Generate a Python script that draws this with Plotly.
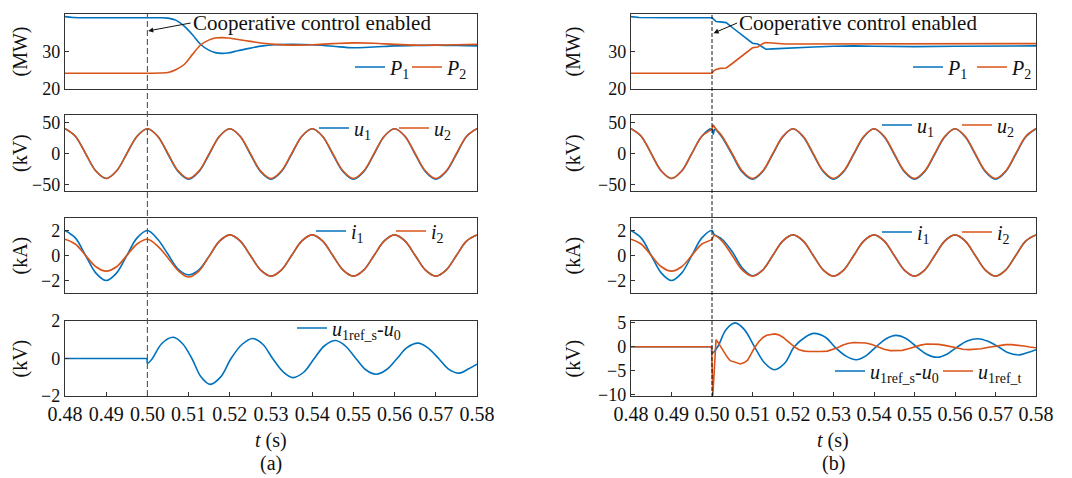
import plotly.graph_objects as go

# ---------------- data ----------------
# uniform sample times (s) used for the sinusoidal quantities
t_grid = [round(0.48 + 0.0025 * k, 4) for k in range(41)]

# Row 1 : active power (MW)
tP_a = [0.48, 0.482, 0.49, 0.5, 0.503, 0.505, 0.507, 0.509, 0.511, 0.513, 0.515, 0.5165, 0.518,
        0.5195, 0.522, 0.525, 0.528, 0.531, 0.535, 0.54, 0.545, 0.55, 0.555, 0.56, 0.565, 0.57, 0.575, 0.58]
P1_a = [39.3, 39.05, 39.0, 39.0, 39.0, 38.9, 38.3, 36.7, 34.4, 31.8, 30.3, 29.7, 29.5,
        29.6, 30.2, 30.9, 31.5, 31.8, 31.9, 31.8, 31.4, 31.0, 31.2, 31.5, 31.6, 31.7, 31.6, 31.5]
P2_a = [24.2, 24.2, 24.2, 24.2, 24.25, 24.4, 25.2, 26.6, 29.3, 31.8, 33.1, 33.6, 33.7,
        33.6, 33.2, 32.7, 32.2, 31.9, 31.7, 31.8, 32.1, 32.3, 32.2, 31.9, 31.7, 31.7, 31.8, 31.9]

tP_b = [0.48, 0.482, 0.49, 0.5, 0.5005, 0.501, 0.502, 0.5035, 0.505, 0.507, 0.509, 0.51, 0.5113,
        0.5125, 0.5133, 0.515, 0.518, 0.52, 0.525, 0.53, 0.535, 0.54, 0.545, 0.55, 0.56, 0.57, 0.58]
P1_b = [39.3, 39.05, 39.0, 39.0, 38.5, 38.0, 37.9, 37.7, 36.4, 34.7, 33.0, 32.2, 32.0,
        31.2, 30.6, 30.7, 30.9, 31.0, 31.2, 31.4, 31.5, 31.4, 31.3, 31.3, 31.4, 31.5, 31.5]
P2_b = [24.2, 24.2, 24.2, 24.2, 24.9, 25.2, 25.5, 25.6, 26.8, 28.5, 30.2, 31.0, 31.2,
        32.1, 32.4, 32.2, 32.0, 32.0, 32.0, 32.1, 32.2, 32.2, 32.1, 32.1, 32.1, 32.1, 32.1]

# Row 2 : voltages (kV) on t_grid
u1_a = [40, 28, 0, -28, -40, -28, 0, 28, 40, 28, -1, -29, -41, -29, -1, 28, 40, 28, -1, -29, -41,
        -29, -1, 28, 40, 28, -1, -29, -41, -29, -1, 28, 40, 28, -1, -29, -41, -29, -1, 28, 40]
u2_a = [40, 28, 0, -28, -40, -28, 0, 28, 40, 28, 0, -28, -40, -28, 0, 28, 40, 28, 0, -28, -40,
        -28, 0, 28, 40, 28, 0, -28, -40, -28, 0, 28, 40, 28, 0, -28, -40, -28, 0, 28, 40]
t_ub = t_grid[:9] + [0.5003, 0.5007, 0.5012] + t_grid[9:]
u1_b = [40, 28, 0, -28, -40, -28, 0, 28, 40, 31, 39, 37,
        26, -2, -30, -41, -29, -1, 27, 40, 27, -1, -29, -41, -29, -1, 27, 40,
        27, -1, -29, -41, -29, -1, 27, 40, 27, -1, -29, -41, -29, -1, 27, 40]
u2_b = [40, 28, 0, -28, -40, -28, 0, 28, 40, 46, 42, 38,
        28, 0, -28, -40, -28, 0, 28, 40, 28, 0, -28, -40, -28, 0, 28, 40,
        28, 0, -28, -40, -28, 0, 28, 40, 28, 0, -28, -40, -28, 0, 28, 40]

# Row 3 : currents (kA) on t_grid
i1_a = [2.0, 1.41, 0, -1.41, -2.0, -1.41, 0, 1.41, 2.0, 1.3, 0.1, -1.1, -1.55, -1.15, -0.05, 1.15, 1.65,
        1.17, 0, -1.17, -1.65, -1.17, 0, 1.17, 1.65, 1.17, 0, -1.17, -1.65, -1.17, 0, 1.17, 1.65,
        1.17, 0, -1.17, -1.65, -1.17, 0, 1.17, 1.65]
i2_a = [1.3, 0.92, 0, -0.9, -1.25, -0.9, 0, 0.92, 1.3, 0.75, -0.2, -1.22, -1.72, -1.25, -0.05, 1.15, 1.65,
        1.17, 0, -1.17, -1.65, -1.17, 0, 1.17, 1.65, 1.17, 0, -1.17, -1.65, -1.17, 0, 1.17, 1.65,
        1.17, 0, -1.17, -1.65, -1.17, 0, 1.17, 1.65]
t_ib = t_grid[:9] + [0.5005] + t_grid[9:]
i1_b = [2.0, 1.41, 0, -1.41, -2.0, -1.41, 0, 1.41, 2.0, 1.7, 1.3, 0.3, -1.0, -1.62, -1.17, 0, 1.17, 1.65,
        1.17, 0, -1.17, -1.65, -1.17, 0, 1.17, 1.65, 1.17, 0, -1.17, -1.65, -1.17, 0, 1.17, 1.65,
        1.17, 0, -1.17, -1.65, -1.17, 0, 1.17, 1.65]
i2_b = [1.3, 0.92, 0, -0.9, -1.25, -0.9, 0, 0.92, 1.3, 1.6, 1.15, 0.0, -1.17, -1.65, -1.17, 0, 1.17, 1.65,
        1.17, 0, -1.17, -1.65, -1.17, 0, 1.17, 1.65, 1.17, 0, -1.17, -1.65, -1.17, 0, 1.17, 1.65,
        1.17, 0, -1.17, -1.65, -1.17, 0, 1.17, 1.65]

# Row 4 : reference voltage components (kV)
tD_a = [0.48, 0.495, 0.4998, 0.4999, 0.5, 0.5012, 0.5035, 0.5063, 0.5085, 0.5108, 0.513, 0.5152, 0.5178,
        0.5203, 0.523, 0.5255, 0.528, 0.5304, 0.533, 0.5353, 0.538, 0.5405, 0.543, 0.5457, 0.548,
        0.5506, 0.553, 0.5555, 0.558, 0.5606, 0.563, 0.5657, 0.568, 0.5707, 0.573, 0.5757, 0.578, 0.58]
dS_a = [0, 0, 0, 0, -0.25, 0, 0.8, 1.13, 0.8, 0, -0.98, -1.38, -0.98,
        0, 0.76, 1.07, 0.76, 0, -0.72, -1.02, -0.72, 0, 0.68, 0.96, 0.68,
        0, -0.6, -0.84, -0.6, 0, 0.58, 0.82, 0.58, 0, -0.55, -0.78, -0.55, -0.3]

tD_b = [0.48, 0.495, 0.4998, 0.4999, 0.5, 0.5014, 0.5035, 0.5057, 0.508, 0.5105, 0.513, 0.5154, 0.518,
        0.5203, 0.523, 0.5251, 0.528, 0.5303, 0.533, 0.5356, 0.538, 0.5405, 0.543, 0.5454, 0.548,
        0.5505, 0.553, 0.5557, 0.558, 0.5606, 0.563, 0.5656, 0.568, 0.5707, 0.573, 0.5759, 0.578, 0.58]
dS_b = [0, 0, 0, 0, -1.4, 0, 3.6, 5.0, 3.6, 0, -3.4, -4.8, -3.4,
        0, 2.0, 2.8, 2.0, 0, -1.9, -2.7, -1.9, 0, 1.7, 2.4, 1.7,
        0, -1.55, -2.2, -1.55, 0, 1.2, 1.7, 1.2, 0, -1.2, -1.7, -1.2, -0.6]

tT_b = [0.48, 0.4999, 0.5002, 0.5006, 0.501, 0.5018, 0.5028, 0.5038, 0.5045, 0.5052,
        0.506, 0.507, 0.508, 0.5088, 0.5096, 0.5105, 0.5115, 0.5125, 0.5135, 0.5145,
        0.5155, 0.5165, 0.5175, 0.5185, 0.5195, 0.5205, 0.5215, 0.5228, 0.524, 0.5255,
        0.527, 0.5285, 0.5298, 0.531, 0.5322, 0.5335, 0.535, 0.5365, 0.538, 0.5395,
        0.541, 0.5425, 0.544, 0.5455, 0.547, 0.5485, 0.55, 0.5515, 0.553, 0.5545,
        0.556, 0.5575, 0.559, 0.5605, 0.562, 0.5635, 0.565, 0.5665, 0.568, 0.5695,
        0.571, 0.5725, 0.574, 0.5755, 0.577, 0.5785, 0.58]
dT_b = [0, 0, -10.2, -4.4, 1.5, 0.5, -1.0, -2.2, -2.9, -3.1,
        -3.3, -3.6, -3.3, -2.8, -1.6, -0.2, 1.0, 1.9, 2.4, 2.6,
        2.7, 2.5, 2.0, 1.3, 0.5, -0.1, -0.6, -0.9, -1.0, -1.05,
        -1.0, -0.9, -0.6, -0.2, 0.3, 0.7, 0.9, 0.9, 0.8, 0.5,
        0.0, -0.5, -0.8, -0.85, -0.75, -0.4, 0.0, 0.35, 0.6, 0.6,
        0.5, 0.3, 0.0, -0.3, -0.5, -0.6, -0.55, -0.4, -0.15, 0.1,
        0.3, 0.45, 0.45, 0.35, 0.15, -0.05, -0.2]

x_ticks = [0.48, 0.49, 0.50, 0.51, 0.52, 0.53, 0.54, 0.55, 0.56, 0.57, 0.58]
y_ticks = [[20, 30, 40], [-50, 0, 50], [-2, 0, 2], [-2, 0, 2], [-10, -5, 0, 5]]
y_titles = ["(MW)", "(kV)", "(kA)", "(kV)"]
t_event = 0.50

# ---------------- styling / layout ----------------
OFF = 8                      # page body margin of the HTML document
W, H = 1072 - OFF, 478 - OFF
BLUE = "#0072BD"
ORANGE = "#D95319"
SERIF = "Liberation Serif"
AX = "#333333"
TXT = "#111111"


def px(x):
    return (x - OFF) / W


def py(y):
    return 1 - (y - OFF) / H


col_dom = [[px(65), px(477)], [px(631), px(1036)]]
row_dom = [[py(89), py(14)], [py(191), py(115)], [py(293), py(218)], [py(396), py(321)]]
y_ranges = [[[20, 40], [20, 40]], [[-60, 62], [-60, 62]], [[-3, 3], [-3, 3]], [[-2, 2], [-10.3, 5.4]]]

fig = go.Figure()
legend_layouts = {}
leg_count = [0]


def add(i, x, y, name, color, lx, ly, shape="spline"):
    leg_count[0] += 1
    lk = "legend" if leg_count[0] == 1 else f"legend{leg_count[0]}"
    legend_layouts[lk] = dict(x=px(lx), y=py(ly), xanchor="left", yanchor="middle",
                              orientation="h", bgcolor="rgba(0,0,0,0)", borderwidth=0,
                              itemwidth=30, font=dict(family=SERIF, size=20, color=TXT))
    fig.add_trace(go.Scatter(
        x=x, y=y, name=name, mode="lines",
        line=dict(color=color, width=1.6, shape=shape, smoothing=1.0),
        xaxis="x" if i == 1 else f"x{i}", yaxis="y" if i == 1 else f"y{i}",
        legend=lk, showlegend=True))


P1n = "<i>P</i><sub>1</sub>"
P2n = "<i>P</i><sub>2</sub>"
u1n = "<i>u</i><sub>1</sub>"
u2n = "<i>u</i><sub>2</sub>"
i1n = "<i>i</i><sub>1</sub>"
i2n = "<i>i</i><sub>2</sub>"
dSn = "<i>u</i><sub>1ref_s</sub>-<i>u</i><sub>0</sub>"
dTn = "<i>u</i><sub>1ref_t</sub>"

add(1, tP_a, P1_a, P1n, BLUE, 350, 67)
add(1, tP_a, P2_a, P2n, ORANGE, 407, 67)
add(2, tP_b, P1_b, P1n, BLUE, 908, 67, shape="linear")
add(2, tP_b, P2_b, P2n, ORANGE, 972, 67, shape="linear")
add(3, t_grid, u1_a, u1n, BLUE, 314, 128)
add(3, t_grid, u2_a, u2n, ORANGE, 394, 128)
add(4, t_ub, u1_b, u1n, BLUE, 877, 125)
add(4, t_ub, u2_b, u2n, ORANGE, 957, 125)
add(5, t_grid, i1_a, i1n, BLUE, 311, 231)
add(5, t_grid, i2_a, i2n, ORANGE, 391, 231)
add(6, t_ib, i1_b, i1n, BLUE, 877, 232)
add(6, t_ib, i2_b, i2n, ORANGE, 957, 232)
add(7, tD_a, dS_a, dSn, BLUE, 292, 328)
add(8, tD_b, dS_b, dSn, BLUE, 830, 371)
add(8, tT_b, dT_b, dTn, ORANGE, 938, 371, shape="linear")

layout = dict(width=W, height=H, margin=dict(l=0, r=0, t=0, b=0, autoexpand=False),
              paper_bgcolor="white", plot_bgcolor="white",
              font=dict(family=SERIF, size=18, color=TXT))
layout.update(legend_layouts)

for i in range(1, 9):
    r, c = (i - 1) // 2, (i - 1) % 2
    xk = "xaxis" if i == 1 else f"xaxis{i}"
    yk = "yaxis" if i == 1 else f"yaxis{i}"
    bottom = r == 3
    layout[xk] = dict(domain=col_dom[c], range=[0.48, 0.58], anchor="y" if i == 1 else f"y{i}",
                      showline=True, mirror=True, linecolor=AX, linewidth=1.3,
                      showgrid=False, zeroline=False, automargin=False,
                      tickvals=x_ticks, ticktext=[f"{v:.2f}" for v in x_ticks],
                      ticks="inside" if bottom else "", ticklen=4, tickcolor=AX,
                      showticklabels=bottom, tickfont=dict(family=SERIF, size=20, color=TXT))
    yt = y_ticks[4] if (r == 3 and c == 1) else y_ticks[r]
    layout[yk] = dict(domain=row_dom[r], range=y_ranges[r][c], anchor="x" if i == 1 else f"x{i}",
                      showline=True, mirror=True, linecolor=AX, linewidth=1.3,
                      showgrid=False, zeroline=False, automargin=False, tickvals=yt,
                      ticks="inside", ticklen=4, tickcolor=AX,
                      tickfont=dict(family=SERIF, size=18, color=TXT))

# dashed event lines
layout["shapes"] = [
    dict(type="line", xref="x", yref="paper", x0=t_event, x1=t_event, y0=py(396), y1=py(14),
         line=dict(color="#555555", width=1.1, dash="6px,3px")),
    dict(type="line", xref="x2", yref="paper", x0=t_event, x1=t_event, y0=py(397), y1=py(14),
         line=dict(color="#000000", width=0.9, dash="4px,2px")),
]

ann = []
ann.append(dict(x=0.5002, y=35.5, xref="x", yref="y", ax=0.5105, ay=37.6, axref="x", ayref="y",
                text="Cooperative control enabled", xanchor="left", showarrow=True,
                arrowhead=2, arrowsize=1, arrowwidth=1, arrowcolor=TXT, standoff=0,
                font=dict(family=SERIF, size=21, color=TXT)))
ann.append(dict(x=0.5004, y=34.9, xref="x2", yref="y2", ax=0.5062, ay=37.6, axref="x2", ayref="y2",
                text="Cooperative control enabled", xanchor="left", showarrow=True,
                arrowhead=2, arrowsize=1, arrowwidth=1, arrowcolor=TXT, standoff=0,
                font=dict(family=SERIF, size=21, color=TXT)))
row_cy = [51.5, 153, 255.5, 358.5]
for r in range(4):
    for cx in (20, 573):
        ann.append(dict(x=px(cx), y=py(row_cy[r]), xref="paper", yref="paper", text=y_titles[r],
                        xanchor="center", yanchor="middle",
                        textangle=-90, showarrow=False, font=dict(family=SERIF, size=20, color=TXT)))
for cx, lab in ((271, "(a)"), (833, "(b)")):
    ann.append(dict(x=px(cx), y=py(440), xref="paper", yref="paper", text="<i>t</i> (s)",
                    xanchor="center", yanchor="middle",
                    showarrow=False, font=dict(family=SERIF, size=20, color=TXT)))
    ann.append(dict(x=px(cx), y=py(463), xref="paper", yref="paper", text=lab,
                    xanchor="center", yanchor="middle",
                    showarrow=False, font=dict(family=SERIF, size=20, color=TXT)))
layout["annotations"] = ann

fig.update_layout(**layout)
fig.write_html("out.html")
